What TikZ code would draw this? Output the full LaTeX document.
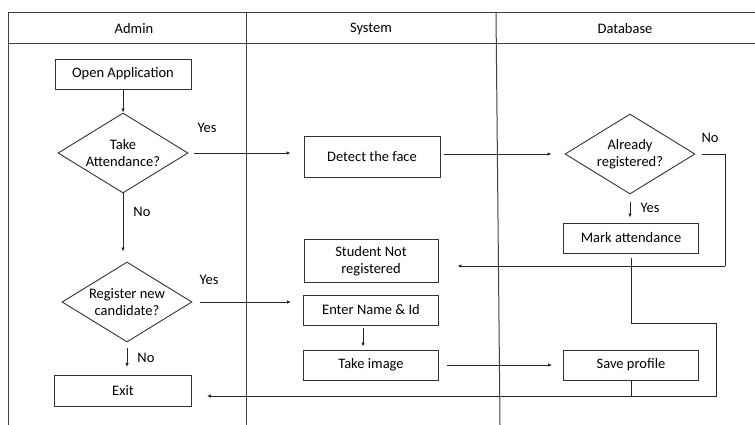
\documentclass[tikz,border=0pt]{standalone}
\usepackage{fontspec}
\setmainfont{Carlito}
\usepackage{tikz}
\usetikzlibrary{positioning}
\usetikzlibrary{shapes.geometric}
\usetikzlibrary{arrows.meta}

\begin{document}
\begin{tikzpicture}[x=1pt,y=-1pt,
    every node/.style={font=\fontsize{14.5}{17.5}\selectfont},
    lane/.style={draw=black!75,line width=1pt},
    proc/.style={draw=black!80,line width=0.9pt,minimum width=136pt,minimum height=30pt,inner sep=2pt,align=center},
    decision/.style={draw=black!80,line width=0.9pt,diamond,aspect=1.6,minimum width=130pt,minimum height=80pt,inner sep=0pt,align=center},
    lbl/.style={inner sep=0pt},
    flow/.style={draw=black!85,line width=0.9pt,-{Latex[length=4pt,width=3.5pt]}},
    link/.style={draw=black!85,line width=0.9pt}]
  \useasboundingbox (0,0) rectangle (755,425);

  % lanes
  \draw[lane] (8,425) -- (8,13) -- (755,13);
  \draw[lane] (8,44) -- (755,44);
  \draw[lane] (246,13) -- (246,425);
  \draw[lane] (496,13) -- (500,425);
  \node (admin) at (134,29) {Admin};
  \node (system) at (371,29) {System};
  \node (database) at (625,29) {Database};

  % admin lane
  \node[proc] (open) at (123,74) {Open Application};
  \node[decision] (take) at (123,153) {Take\\Attendance?};
  \node[decision] (register) at (127,302) {Register new\\candidate?};
  \node[proc,minimum width=137pt,minimum height=31pt] (exit) at (123,391) {Exit};

  % system lane
  \node[proc,minimum height=41pt] (detect) at (372,157) {Detect the face};
  \node[proc,minimum width=134pt,minimum height=43pt,inner sep=0pt] (notreg) at (371,261) {Student Not\\registered};
  \node[proc,minimum width=135pt] (enter) at (371,310) {Enter Name \& Id};
  \node[proc,minimum width=135pt] (takeimg) at (371,365) {Take image};

  % database lane
  \node[decision] (already) at (630,154) {Already\\registered?};
  \node[proc,minimum width=135pt] (mark) at (631,238) {Mark attendance};
  \node[proc,minimum width=135pt] (save) at (631,365) {Save profile};

  \coordinate (noturn) at (725,266);
  \coordinate (loopturn) at (716,323);
  \coordinate (join) at (630,396);

  % connectors
  \draw[flow] (open) -- (take);
  \draw[flow,shorten <=6pt,shorten >=13pt] (take.east) -- (detect.west |- take.east);
  \draw[flow,shorten >=10pt] (take.south) -- (take.south |- register.north);
  \draw[flow,shorten <=8pt,shorten >=12pt] (register.east) -- (register.east -| enter.west);
  \draw[flow,shorten <=6pt,shorten >=8pt] (register.south) -- (register.south |- exit.north);
  \draw[flow,shorten <=4pt,shorten >=13pt] (detect.east |- already.west) -- (already.west);
  \draw[link,shorten <=7pt] (already.east) -| (noturn);
  \draw[flow,shorten >=19pt] (noturn) -- (noturn -| notreg.east);
  \draw[flow,shorten <=8pt,shorten >=5pt] (already.south) -- (already.south |- mark.north);
  \draw[flow,shorten <=3pt,shorten >=3pt] ([xshift=-8pt]enter.south) -- ([xshift=-8pt]takeimg.north);
  \draw[flow,shorten <=8pt,shorten >=11pt] (takeimg.east) -- (save.west);
  \draw[link,shorten <=5pt] (mark.south) |- (loopturn) |- (join);
  \draw[link] (save.south) -- (save.south |- join);
  \draw[flow,shorten >=15pt] (join) -- (join -| exit.east);

  % branch labels
  \node[lbl] (yesTake) at (207,128) {Yes};
  \node[lbl] (noTake) at (142,212) {No};
  \node[lbl] (yesReg) at (209,280) {Yes};
  \node[lbl] (noReg) at (146,358) {No};
  \node[lbl] (noAlready) at (710,138) {No};
  \node[lbl] (yesAlready) at (650,208) {Yes};
\end{tikzpicture}
\end{document}
